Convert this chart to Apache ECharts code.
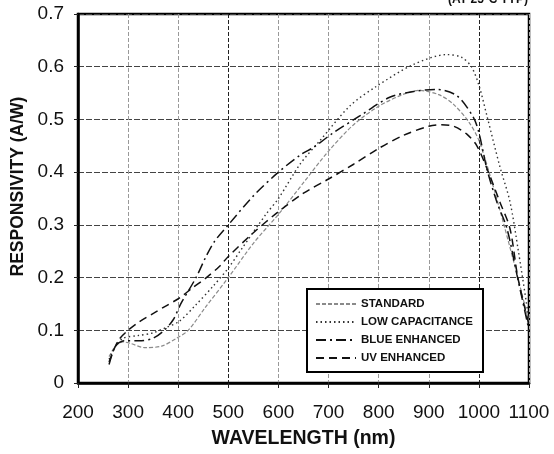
<!DOCTYPE html>
<html>
<head>
<meta charset="utf-8">
<script src="https://cdn.jsdelivr.net/npm/echarts@6/dist/echarts.min.js"></script>
<style>
html,body{margin:0;padding:0;background:#fff;}
#c{width:554px;height:454px;}
</style>
</head>
<body>
<div id="c"></div>
<script>
const xTicks = [200, 300, 400, 500, 600, 700, 800, 900, 1000, 1100];
const yTicks = [0, 0.1, 0.2, 0.3, 0.4, 0.5, 0.6, 0.7];
const seriesNames = ['STANDARD', 'LOW CAPACITANCE', 'BLUE ENHANCED', 'UV ENHANCED'];

const stdNm  = [262, 275, 290, 305, 334, 367, 397, 420, 453, 500, 550, 600, 650, 700, 750, 800, 850, 880, 920, 950, 980, 1000, 1025, 1050, 1075, 1100];
const stdVal = [0.05, 0.07, 0.078, 0.075, 0.067, 0.07, 0.085, 0.10, 0.142, 0.20, 0.265, 0.32, 0.38, 0.44, 0.49, 0.525, 0.548, 0.555, 0.547, 0.528, 0.495, 0.46, 0.385, 0.30, 0.21, 0.115];

const lcNm  = [262, 275, 290, 320, 349, 375, 402, 435, 469, 500, 527, 575, 600, 643, 683, 743, 796, 869, 936, 965, 985, 1000, 1016, 1042, 1062, 1079, 1100];
const lcVal = [0.045, 0.07, 0.085, 0.09, 0.095, 0.105, 0.117, 0.148, 0.183, 0.218, 0.255, 0.32, 0.35, 0.415, 0.46, 0.526, 0.563, 0.604, 0.623, 0.618, 0.60, 0.565, 0.507, 0.41, 0.344, 0.249, 0.12];

const blueNm  = [262, 275, 292, 322, 350, 372, 390, 405, 435, 455, 472, 500, 550, 600, 646, 670, 710, 763, 822, 870, 916, 956, 989, 1000, 1016, 1036, 1056, 1076, 1100];
const blueVal = [0.035, 0.07, 0.08, 0.08, 0.085, 0.10, 0.12, 0.15, 0.199, 0.239, 0.268, 0.30, 0.355, 0.40, 0.434, 0.447, 0.475, 0.507, 0.542, 0.553, 0.557, 0.545, 0.504, 0.475, 0.406, 0.343, 0.293, 0.205, 0.10];

const uvNm  = [262, 280, 300, 322, 352, 375, 402, 429, 455, 482, 500, 550, 600, 650, 700, 750, 800, 850, 900, 925, 950, 976, 996, 1019, 1042, 1062, 1078, 1100];
const uvVal = [0.04, 0.08, 0.10, 0.116, 0.133, 0.146, 0.161, 0.181, 0.199, 0.221, 0.24, 0.285, 0.325, 0.36, 0.387, 0.415, 0.445, 0.47, 0.487, 0.49, 0.487, 0.472, 0.45, 0.40, 0.343, 0.293, 0.199, 0.11];

function zip(xs, ys) { return xs.map((x, i) => [x, ys[i]]); }

const FONT = 'Liberation Sans, Arial, Helvetica, sans-serif';
const chart = echarts.init(document.getElementById('c'), null, {renderer: 'canvas'});

const styles = [
  {color: '#8a8a8a', width: 1.2, type: [4, 2]},
  {color: '#333', width: 1.4, type: [1.5, 3]},
  {color: '#111', width: 1.5, type: [10, 4, 2, 4]},
  {color: '#111', width: 1.5, type: [8, 5]}
];
const datas = [zip(stdNm, stdVal), zip(lcNm, lcVal), zip(blueNm, blueVal), zip(uvNm, uvVal)];

chart.setOption({
  animation: false,
  backgroundColor: '#fff',
  grid: {left: 78, right: 25, top: 14, bottom: 69, show: true, borderColor: '#000', borderWidth: 2.5, backgroundColor: 'transparent'},
  graphic: [{
    type: 'text', right: 26, top: -6,
    style: {text: '(AT 25°C TYP)', font: 'bold 12px ' + FONT, fill: '#111'}
  }],
  legend: {
    data: seriesNames,
    orient: 'vertical',
    left: 307, top: 289,
    itemWidth: 40, itemHeight: 12, itemGap: 6,
    padding: [9, 10, 8, 8],
    borderColor: '#000', borderWidth: 2,
    backgroundColor: '#fff',
    itemStyle: {opacity: 0},
    textStyle: {fontFamily: FONT, fontWeight: 'bold', fontSize: 11.5, color: '#111', lineHeight: 12},
    selectedMode: false
  },
  xAxis: {
    type: 'value', min: 200, max: 1100, interval: 100,
    name: 'WAVELENGTH (nm)', nameLocation: 'middle', nameGap: 46,
    nameTextStyle: {fontFamily: FONT, fontWeight: 'bold', fontSize: 19.5, color: '#111'},
    axisLine: {lineStyle: {color: '#000', width: 2.5}},
    axisTick: {show: true, inside: false, length: 5, lineStyle: {color: '#222', width: 1}},
    axisLabel: {fontFamily: FONT, fontSize: 19, color: '#111', margin: 20,
      formatter: v => (xTicks.indexOf(v) >= 0 ? String(v) : '')},
    splitLine: {show: true, lineStyle: {type: [4, 2], width: 1,
      color: ['#aaa', '#999', '#999', '#222', '#999', '#999', '#999', '#999', '#222', '#aaa']}}
  },
  yAxis: {
    type: 'value', min: 0, max: 0.7, interval: 0.1,
    name: 'RESPONSIVITY (A/W)', nameLocation: 'middle', nameGap: 46,
    nameTextStyle: {fontFamily: FONT, fontWeight: 'bold', fontSize: 17.5, color: '#111', padding: [0, 0, 0, 24]},
    axisLine: {show: true, lineStyle: {color: '#000', width: 2.5}},
    axisTick: {show: true, inside: false, length: 4, lineStyle: {color: '#222', width: 1}},
    axisLabel: {fontFamily: FONT, fontSize: 19, color: '#111', margin: 14,
      formatter: v => { const t = yTicks.find(y => Math.abs(y - v) < 1e-9); return t === undefined ? '' : (t === 0 ? '0' : t.toFixed(1)); }},
    splitLine: {show: true, lineStyle: {type: [6, 2], width: 1, color: '#444'}}
  },
  series: seriesNames.map((n, i) => ({
    name: n, type: 'line', data: datas[i], smooth: 0.3, symbol: 'none',
    lineStyle: styles[i], itemStyle: {color: styles[i].color}, z: 3
  }))
});
</script>
</body>
</html>
